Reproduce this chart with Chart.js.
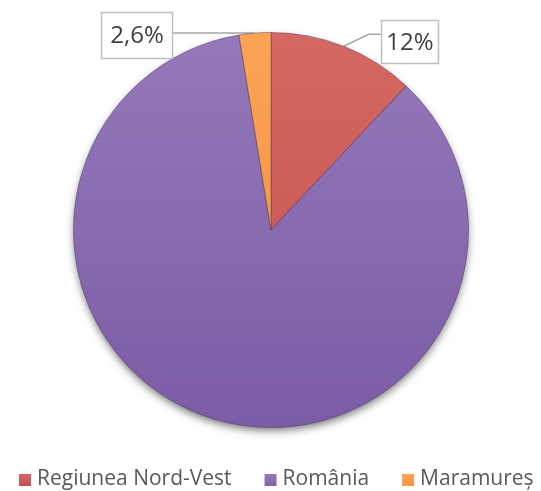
<!DOCTYPE html>
<html>
<head>
<meta charset="utf-8">
<script src="https://cdn.jsdelivr.net/npm/chart.js@4"></script>
<style>
  html, body { margin: 0; padding: 0; background: #fff; }
  canvas { display: block; }
</style>
</head>
<body>
<canvas id="pieChart" width="541" height="491"></canvas>
<script>
// Datos del gráfico
const categories = ['Regiunea Nord-Vest', 'România', 'Maramureș'];
const values = [12, 85.4, 2.6];
const valueLabels = ['12%', null, '2,6%'];

// Colores (claro arriba, oscuro abajo)
const colorsTop = ['#d66864', '#9579b9', '#fba455'];
const colorsBottom = ['#c0504d', '#7b5ca6', '#f08c3a'];
const legendColors = ['#c0504d', '#8064a2', '#f79646'];

// Posición de las etiquetas respecto al borde del sector
const labelLayout = [
    { elbow: [25, -12], boxX: 37, boxY: -26, w: 57, h: 43 },
    null,
    { elbow: null, boxX: -154, boxY: -21, w: 71, h: 46 }
];

function sliceGradient(context) {
    const chart = context.chart;
    const area = chart.chartArea;
    if (!area) return colorsBottom[context.dataIndex];
    const g = chart.ctx.createLinearGradient(0, area.top, 0, area.bottom);
    g.addColorStop(0, colorsTop[context.dataIndex]);
    g.addColorStop(1, colorsBottom[context.dataIndex]);
    return g;
}

function anchorOf(arc) {
    const p = arc.getProps(['x', 'y', 'startAngle', 'endAngle', 'outerRadius'], true);
    const mid = (p.startAngle + p.endAngle) / 2;
    return { x: p.x + Math.cos(mid) * p.outerRadius, y: p.y + Math.sin(mid) * p.outerRadius };
}

const pieDecor = {
    id: 'pieDecor',
    beforeDatasetsDraw(chart) {
        const ctx = chart.ctx;
        const arcs = chart.getDatasetMeta(0).data;
        const a0 = arcs[0];
        // sombra del pastel
        ctx.save();
        ctx.shadowColor = 'rgba(0,0,0,0.55)';
        ctx.shadowBlur = 9;
        ctx.shadowOffsetY = 4;
        ctx.fillStyle = '#7b5ca6';
        ctx.beginPath();
        ctx.arc(a0.x, a0.y, a0.outerRadius - 1, 0, Math.PI * 2);
        ctx.fill();
        ctx.restore();

        // líneas guía (quedan debajo del pastel)
        ctx.save();
        ctx.strokeStyle = '#a6a6a6';
        ctx.lineWidth = 1.5;
        arcs.forEach((arc, i) => {
            const lay = labelLayout[i];
            if (!lay || !valueLabels[i]) return;
            const an = anchorOf(arc);
            const boxLeft = an.x + lay.boxX;
            const lineY = lay.elbow ? an.y + lay.elbow[1] : an.y;
            ctx.beginPath();
            ctx.moveTo(an.x, an.y);
            if (lay.elbow) {
                ctx.lineTo(an.x + lay.elbow[0], lineY);
                ctx.lineTo(boxLeft, lineY);
            } else {
                ctx.lineTo(boxLeft + lay.w, lineY);
            }
            ctx.stroke();
        });
        ctx.restore();
    },
    afterDatasetsDraw(chart) {
        const ctx = chart.ctx;
        const arcs = chart.getDatasetMeta(0).data;
        ctx.save();
        arcs.forEach((arc, i) => {
            const lay = labelLayout[i];
            if (!lay || !valueLabels[i]) return;
            const an = anchorOf(arc);
            const x = Math.round(an.x + lay.boxX) + 0.5;
            const y = Math.round(an.y + lay.boxY) + 0.5;
            ctx.fillStyle = '#ffffff';
            ctx.fillRect(x, y, lay.w, lay.h);
            ctx.strokeStyle = '#bfbfbf';
            ctx.lineWidth = 1.5;
            ctx.strokeRect(x, y, lay.w, lay.h);
            ctx.fillStyle = '#404040';
            ctx.font = '24px "Open Sans"';
            ctx.textAlign = 'center';
            ctx.textBaseline = 'middle';
            ctx.fillText(valueLabels[i], x + lay.w / 2, y + lay.h / 2 + 1);
        });

        // leyenda
        ctx.font = '21px "Open Sans"';
        ctx.textBaseline = 'alphabetic';
        ctx.textAlign = 'left';
        const box = 12, gapText = 6, gapItem = 33;
        const widths = categories.map(c => ctx.measureText(c).width);
        const total = widths.reduce((s, w) => s + w, 0) + categories.length * (box + gapText) + gapItem * (categories.length - 1);
        let lx = Math.round(276.5 - total / 2);
        const baseY = 485;
        categories.forEach((c, i) => {
            const g = ctx.createLinearGradient(0, baseY - 11, 0, baseY + 1);
            g.addColorStop(0, colorsTop[i]);
            g.addColorStop(1, legendColors[i]);
            ctx.fillStyle = g;
            ctx.fillRect(lx, baseY - 11, box, box);
            ctx.fillStyle = '#595959';
            ctx.fillText(c, lx + box + gapText, baseY);
            lx += box + gapText + widths[i] + gapItem;
        });
        ctx.restore();
    }
};

const ctx = document.getElementById('pieChart').getContext('2d');
const pieChart = new Chart(ctx, {
    type: 'pie',
    data: {
        labels: categories,
        datasets: [{
            data: values,
            backgroundColor: sliceGradient,
            borderColor: 'rgba(70,50,90,0.55)',
            borderWidth: 0.8
        }]
    },
    options: {
        responsive: false,
        animation: false,
        layout: {
            padding: { top: 32, bottom: 63, left: 73, right: 72 }
        },
        plugins: {
            legend: { display: false },
            tooltip: { enabled: false }
        }
    },
    plugins: [pieDecor]
});
</script>
</body>
</html>
